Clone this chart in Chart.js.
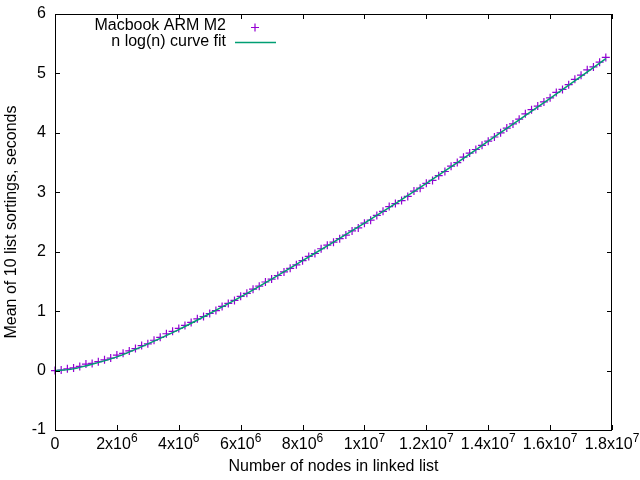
<!DOCTYPE html>
<html>
<head>
<meta charset="utf-8">
<script src="https://cdn.jsdelivr.net/npm/chart.js@4"></script>
<style>
  html, body { margin: 0; padding: 0; background: #fff; }
  canvas { display: block; }
</style>
</head>
<body>
<canvas id="grafica" width="640" height="480"></canvas>
<script>
// Mediciones: nodos en la lista y media de 10 ordenaciones (segundos)
const nodos = [
  0, 200000, 400000, 600000, 800000, 1000000, 1200000, 1400000, 1600000, 1800000,
  2000000, 2200000, 2400000, 2600000, 2800000, 3000000, 3200000, 3400000, 3600000, 3800000,
  4000000, 4200000, 4400000, 4600000, 4800000, 5000000, 5200000, 5400000, 5600000, 5800000,
  6000000, 6200000, 6400000, 6600000, 6800000, 7000000, 7200000, 7400000, 7600000, 7800000,
  8000000, 8200000, 8400000, 8600000, 8800000, 9000000, 9200000, 9400000, 9600000, 9800000,
  10000000, 10200000, 10400000, 10600000, 10800000, 11000000, 11200000, 11400000, 11600000, 11800000,
  12000000, 12200000, 12400000, 12600000, 12800000, 13000000, 13200000, 13400000, 13600000, 13800000,
  14000000, 14200000, 14400000, 14600000, 14800000, 15000000, 15200000, 15400000, 15600000, 15800000,
  16000000, 16200000, 16400000, 16600000, 16800000, 17000000, 17200000, 17400000, 17600000, 17800000
];
const segundos = [
  0, 0.01, 0.03, 0.045, 0.07, 0.11, 0.12, 0.15, 0.18, 0.21,
  0.26, 0.29, 0.33, 0.37, 0.42, 0.45, 0.51, 0.56, 0.62, 0.66,
  0.71, 0.76, 0.81, 0.87, 0.91, 0.96, 1.01, 1.08, 1.13, 1.18,
  1.25, 1.30, 1.37, 1.42, 1.49, 1.54, 1.60, 1.66, 1.72, 1.78,
  1.85, 1.92, 1.97, 2.05, 2.11, 2.16, 2.22, 2.28, 2.35, 2.40,
  2.48, 2.53, 2.61, 2.68, 2.76, 2.81, 2.86, 2.93, 3.02, 3.07,
  3.15, 3.20, 3.28, 3.35, 3.44, 3.50, 3.59, 3.66, 3.72, 3.79,
  3.86, 3.93, 4.00, 4.08, 4.15, 4.23, 4.32, 4.39, 4.45, 4.52,
  4.59, 4.68, 4.73, 4.81, 4.90, 4.97, 5.06, 5.11, 5.19, 5.27
];

// Curva de ajuste n log(n)
const ajusteNodos = [0, 500000, 1000000, 2000000, 3000000, 4000000, 5000000, 6000000, 7000000, 8000000,
  9000000, 10000000, 11000000, 12000000, 13000000, 14000000, 15000000, 16000000, 17000000, 17800000];
const ajusteSegundos = [0, 0.02, 0.08, 0.23, 0.45, 0.69, 0.96, 1.24, 1.54, 1.85,
  2.16, 2.48, 2.81, 3.15, 3.50, 3.86, 4.22, 4.58, 4.95, 5.25];

// Marcas del eje x (base y exponente)
const xMarcas = [0, 2000000, 4000000, 6000000, 8000000, 10000000, 12000000, 14000000, 16000000, 18000000];
const xBase = ['0', '2x10', '4x10', '6x10', '8x10', '1x10', '1.2x10', '1.4x10', '1.6x10', '1.8x10'];
const xExpo = ['', '6', '6', '6', '6', '7', '7', '7', '7', '7'];

const fuente = '"Liberation Sans", Arial, sans-serif';

// Marco, marcas interiores, etiquetas del eje x y leyenda estilo gnuplot
const marcoGnuplot = {
  id: 'marcoGnuplot',
  afterDraw(chart) {
    const { ctx, chartArea: a, scales: { x, y } } = chart;
    ctx.save();
    ctx.strokeStyle = '#000';
    ctx.lineWidth = 1;
    ctx.strokeRect(a.left + 0.5, a.top + 0.5, a.right - a.left - 1, a.bottom - a.top);

    ctx.beginPath();
    xMarcas.forEach(v => {
      const px = Math.round(x.getPixelForValue(v)) + 0.5;
      ctx.moveTo(px, a.bottom); ctx.lineTo(px, a.bottom - 5);
      ctx.moveTo(px, a.top); ctx.lineTo(px, a.top + 5);
    });
    y.ticks.forEach(t => {
      const py = Math.round(y.getPixelForValue(t.value)) + 0.5;
      ctx.moveTo(a.left, py); ctx.lineTo(a.left + 5, py);
      ctx.moveTo(a.right, py); ctx.lineTo(a.right - 5, py);
    });
    ctx.stroke();

    // etiquetas del eje x con exponente
    ctx.fillStyle = '#000';
    ctx.textBaseline = 'alphabetic';
    ctx.textAlign = 'left';
    xMarcas.forEach((v, i) => {
      ctx.font = '16px ' + fuente;
      const wb = ctx.measureText(xBase[i]).width;
      ctx.font = '12px ' + fuente;
      const we = xExpo[i] ? ctx.measureText(xExpo[i]).width : 0;
      const px = x.getPixelForValue(v);
      const x0 = px - (wb + we) / 2;
      ctx.font = '16px ' + fuente;
      ctx.fillText(xBase[i], x0, a.bottom + 19);
      if (xExpo[i]) {
        ctx.font = '12px ' + fuente;
        ctx.fillText(xExpo[i], x0 + wb, a.bottom + 12);
      }
    });

    // leyenda
    ctx.font = '16px ' + fuente;
    ctx.textAlign = 'right';
    ctx.textBaseline = 'middle';
    chart.data.datasets.forEach((ds, i) => {
      const yy = 26 + i * 16;
      ctx.fillStyle = '#000';
      ctx.fillText(ds.label, 226, yy);
      ctx.strokeStyle = ds.borderColor;
      ctx.lineWidth = ds.borderWidth;
      ctx.beginPath();
      if (ds.showLine) {
        ctx.moveTo(235, yy + 0.5); ctx.lineTo(276, yy + 0.5);
      } else {
        ctx.moveTo(251, yy + 1.5); ctx.lineTo(259, yy + 1.5);
        ctx.moveTo(255, yy - 2.5); ctx.lineTo(255, yy + 5.5);
      }
      ctx.stroke();
    });
    ctx.restore();
  }
};

const grafica = new Chart(document.getElementById('grafica').getContext('2d'), {
  type: 'scatter',
  data: {
    datasets: [{
      label: 'Macbook ARM M2',
      data: nodos.map((n, i) => ({ x: n, y: segundos[i] })),
      pointStyle: 'cross',
      pointRadius: 4,
      borderColor: '#9400d3',
      backgroundColor: '#9400d3',
      borderWidth: 1.2,
      showLine: false,
      clip: 6,
      order: 2
    }, {
      label: 'n log(n) curve fit',
      data: ajusteNodos.map((n, i) => ({ x: n, y: ajusteSegundos[i] })),
      showLine: true,
      pointRadius: 0,
      borderColor: '#009e73',
      borderWidth: 1.5,
      cubicInterpolationMode: 'monotone',
      order: 1
    }]
  },
  options: {
    responsive: false,
    animation: false,
    events: [],
    layout: { padding: { top: 14, right: 28, left: 0, bottom: 0 } },
    plugins: {
      legend: { display: false },
      tooltip: { enabled: false }
    },
    scales: {
      x: {
        type: 'linear',
        min: 0,
        max: 18000000,
        grid: { display: false, drawTicks: false },
        border: { display: false },
        ticks: { display: false, stepSize: 2000000 },
        title: {
          display: true,
          text: 'Number of nodes in linked list',
          color: '#000',
          font: { family: fuente, size: 16 },
          padding: { top: 0, bottom: 4 }
        },
        afterFit: s => { s.height = 50; s.paddingLeft = 0; s.paddingRight = 0; }
      },
      y: {
        min: -1,
        max: 6,
        grid: { display: false, drawTicks: false },
        border: { display: false },
        ticks: {
          stepSize: 1,
          color: '#000',
          padding: 9,
          font: { family: fuente, size: 16 }
        },
        title: {
          display: true,
          text: 'Mean of 10 list sortings, seconds',
          color: '#000',
          font: { family: fuente, size: 16 },
          padding: { top: 2, bottom: 0 }
        },
        afterFit: s => { s.width = 55; s.paddingTop = 0; s.paddingBottom = 0; }
      }
    }
  },
  plugins: [marcoGnuplot]
});
</script>
</body>
</html>
